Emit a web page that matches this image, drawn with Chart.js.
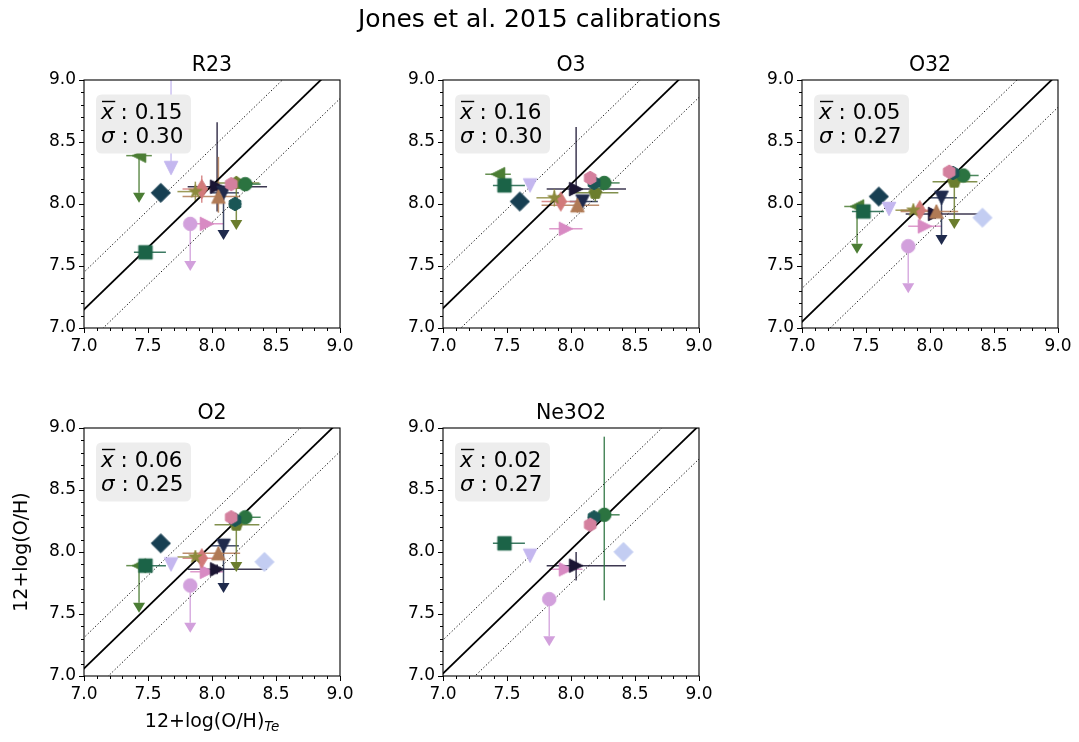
<!DOCTYPE html>
<html>
<head>
<meta charset="utf-8">
<script src="https://cdn.jsdelivr.net/npm/chart.js@4.4.1/dist/chart.umd.min.js"></script>
<style>
  html, body { margin: 0; padding: 0; background: #fff; }
  body { width: 1079px; height: 742px; position: relative; overflow: hidden; }
  canvas { position: absolute; }
</style>
</head>
<body>
<canvas id="figText" width="1079" height="742" style="left:0;top:0"></canvas>
<script>
// ---- calibrations and their scatter statistics ----
const calibNames = ['R23', 'O3', 'O32', 'O2', 'Ne3O2'];
const meanOffsets = [0.15, 0.16, 0.05, 0.06, 0.02];
const sigmaValues = [0.30, 0.30, 0.27, 0.25, 0.27];
const axisTicks = [7.0, 7.5, 8.0, 8.5, 9.0];

// ---- objects: direct-method (Te) metallicity and its uncertainty ----
const teOH      = [7.43, 7.48, 7.60, 7.68, 7.83, 7.96, 8.04, 8.09, 8.19, 8.26, 8.18, 8.15, 7.92, 8.05, 7.87, 8.41];
const teErrLow  = [0.10, 0.09, 0.07, 0.00, 0.00, 0.13, 0.23, 0.10, 0.17, 0.10, 0.05, 0.04, 0.15, 0.28, 0.14, 0.00];
const teErrHigh = [0.10, 0.16, 0.07, 0.00, 0.00, 0.13, 0.39, 0.12, 0.18, 0.12, 0.05, 0.04, 0.15, 0.17, 0.07, 0.00];
const markerShapes = ['<', 's', 'D', 'v', 'o', '>', '>', 'v', 'p', 'o', 'h', 'h', 'd', '^', '*', 'D'];
const markerColors = ['#4b7d34', '#1b6347', '#173f52', '#c4b7ef', '#d2a0dc', '#d88ac3', '#1b1533', '#1f2a4c',
                      '#6b7d2e', '#2b7340', '#1b5656', '#d4809e', '#d27a7a', '#b07a55', '#8c8a3c', '#c3cdf2'];

// ---- strong-line metallicities (null = not measured) ----
const ohR23   = [8.39, 7.61, 8.09, 8.29, 7.84, 7.84, 8.14, 8.09, 8.17, 8.16, 8.00, 8.16, 8.12, 8.06, 8.10, null];
const ohO3    = [8.24, 8.15, 8.02, 8.15, null, 7.80, 8.12, 8.02, 8.09, 8.17, 8.17, 8.21, 8.02, 7.99, 8.05, null];
const ohO32   = [7.98, 7.94, 8.06, 7.96, 7.66, 7.82, 7.92, 8.05, 8.18, 8.23, 8.25, 8.26, 7.95, 7.94, 7.95, 7.89];
const ohO2    = [7.89, 7.89, 8.07, 7.90, 7.73, 7.84, 7.86, 8.05, 8.22, 8.28, 8.26, 8.28, 7.95, 7.99, 7.96, 7.92];
const ohNe3O2 = [null, 8.07, null, 7.97, 7.62, 7.86, 7.89, null, null, 8.30, 8.28, 8.22, null, null, null, 8.00];

const errLowR23    = [0, 0, 0, 0, 0, 0, 0.20, 0, 0, 0.05, 0, 0.04, 0.11, 0.13, 0.08, 0];
const errHighR23   = [0, 0, 0, 0.80, 0, 0, 0.52, 0, 0, 0.05, 0, 0.04, 0.11, 0.32, 0.08, 0];
const errLowO3     = [0, 0, 0, 0, 0, 0, 0, 0, 0.07, 0.04, 0, 0.04, 0.06, 0.06, 0.07, 0];
const errHighO3    = [0, 0, 0, 0, 0, 0, 0.50, 0, 0.07, 0.04, 0, 0.04, 0.06, 0.06, 0.07, 0];
const errLowO32    = [0, 0, 0, 0, 0, 0, 0.04, 0, 0, 0.04, 0, 0.04, 0.05, 0.05, 0.04, 0];
const errHighO32   = [0, 0, 0, 0, 0, 0, 0.04, 0, 0, 0.04, 0, 0.04, 0.05, 0.05, 0.04, 0];
const errLowO2     = [0, 0, 0, 0, 0, 0, 0.04, 0, 0, 0.04, 0, 0.04, 0.05, 0.05, 0.04, 0];
const errHighO2    = [0, 0, 0, 0, 0, 0, 0.04, 0, 0, 0.04, 0, 0.04, 0.05, 0.05, 0.04, 0];
const errLowNe3O2  = [0, 0, 0, 0, 0, 0, 0.12, 0, 0, 0.69, 0, 0.06, 0, 0, 0, 0];
const errHighNe3O2 = [0, 0, 0, 0, 0, 0, 0.11, 0, 0, 0.63, 0, 0.06, 0, 0, 0, 0];

// upper limits (drawn as downward arrows)
const upperR23   = [1, 0, 0, 0, 1, 0, 0, 1, 1, 0, 0, 0, 0, 0, 0, 0];
const upperO3    = [0, 0, 0, 0, 0, 0, 0, 0, 0, 0, 0, 0, 0, 0, 0, 0];
const upperO32   = [1, 0, 0, 0, 1, 0, 0, 1, 1, 0, 0, 0, 0, 0, 0, 0];
const upperO2    = [1, 0, 0, 0, 1, 0, 0, 1, 1, 0, 0, 0, 0, 0, 0, 0];
const upperNe3O2 = [0, 0, 0, 0, 1, 0, 0, 0, 0, 0, 0, 0, 0, 0, 0, 0];
const limitArrowDex = 0.30;

const panelY     = [ohR23, ohO3, ohO32, ohO2, ohNe3O2];
const panelErrLo = [errLowR23, errLowO3, errLowO32, errLowO2, errLowNe3O2];
const panelErrHi = [errHighR23, errHighO3, errHighO32, errHighO2, errHighNe3O2];
const panelUpper = [upperR23, upperO3, upperO32, upperO2, upperNe3O2];

// ---- layout ----
const FONT = '"DejaVu Sans", "Liberation Sans", sans-serif';
const PLOT_W = 256, PLOT_H = 248;
const PAD_L = 60, PAD_T = 40, PAD_R = 20, PAD_B = 40;
const panelLefts = [84, 443, 802, 84, 443];
const panelTops  = [80, 80, 80, 428, 428];
const MS = 13.5; // marker size in px

// marker sprites drawn on small canvases, used as Chart.js point styles
function markerSprite(shape, color) {
  const S = 26;
  const c = document.createElement('canvas');
  c.width = S; c.height = S;
  const g = c.getContext('2d');
  const h = MS / 2, cx = S / 2, cy = S / 2;
  g.beginPath();
  const poly = pts => { pts.forEach((p, k) => k ? g.lineTo(cx + p[0], cy + p[1]) : g.moveTo(cx + p[0], cy + p[1])); g.closePath(); };
  const r2 = h * Math.SQRT2;
  switch (shape) {
    case 'o': g.arc(cx, cy, h, 0, Math.PI * 2); break;
    case 's': poly([[-h, -h], [h, -h], [h, h], [-h, h]]); break;
    case 'D': poly([[0, -r2], [r2, 0], [0, r2], [-r2, 0]]); break;
    case 'd': poly([[0, -r2], [0.6 * r2, 0], [0, r2], [-0.6 * r2, 0]]); break;
    case '^': poly([[0, -h], [h, h], [-h, h]]); break;
    case 'v': poly([[0, h], [h, -h], [-h, -h]]); break;
    case '<': poly([[-h, 0], [h, -h], [h, h]]); break;
    case '>': poly([[h, 0], [-h, -h], [-h, h]]); break;
    case 'p': {
      const pts = [];
      for (let k = 0; k < 5; k++) { const a = -Math.PI / 2 + k * 2 * Math.PI / 5; pts.push([h * Math.cos(a), h * Math.sin(a)]); }
      poly(pts); break;
    }
    case 'h': {
      const pts = [];
      for (let k = 0; k < 6; k++) { const a = -Math.PI / 2 + k * Math.PI / 3; pts.push([h * Math.cos(a), h * Math.sin(a)]); }
      poly(pts); break;
    }
    case '*': {
      const pts = [];
      for (let k = 0; k < 10; k++) { const a = -Math.PI / 2 + k * Math.PI / 5; const r = k % 2 ? h * 0.381966 : h; pts.push([r * Math.cos(a), r * Math.sin(a)]); }
      poly(pts); break;
    }
  }
  g.fillStyle = color; g.strokeStyle = color; g.lineWidth = 1;
  g.fill(); g.stroke();
  return c;
}

function hexAlpha(hex, a) {
  const n = parseInt(hex.slice(1), 16);
  return `rgba(${(n >> 16) & 255},${(n >> 8) & 255},${n & 255},${a})`;
}

// error bars, limit arrows, frame, minor ticks, titles and stat box
function decorPlugin(p) {
  return {
    id: 'decor' + p,
    beforeDatasetsDraw(chart) {
      const { ctx, chartArea: a, scales: { x: sx, y: sy } } = chart;
      const ys = panelY[p], lo = panelErrLo[p], hi = panelErrHi[p], up = panelUpper[p];
      ctx.save();
      ctx.beginPath(); ctx.rect(a.left, a.top, a.right - a.left, a.bottom - a.top); ctx.clip();
      ctx.lineWidth = 1.5;
      ys.forEach((yv, i) => {
        if (yv === null) return;
        const px = sx.getPixelForValue(teOH[i]);
        const py = sy.getPixelForValue(yv);
        ctx.strokeStyle = hexAlpha(markerColors[i], 0.85);
        ctx.fillStyle = markerColors[i];
        if (teErrLow[i] || teErrHigh[i]) {
          ctx.beginPath();
          ctx.moveTo(sx.getPixelForValue(teOH[i] - teErrLow[i]), py);
          ctx.lineTo(sx.getPixelForValue(teOH[i] + teErrHigh[i]), py);
          ctx.stroke();
        }
        if (up[i]) {
          const pe = sy.getPixelForValue(yv - limitArrowDex);
          ctx.beginPath(); ctx.moveTo(px, py); ctx.lineTo(px, pe); ctx.stroke();
          ctx.beginPath();
          ctx.moveTo(px - 6, pe); ctx.lineTo(px + 6, pe); ctx.lineTo(px, pe + 10); ctx.closePath();
          ctx.fill();
        } else if (lo[i] || hi[i]) {
          ctx.beginPath();
          ctx.moveTo(px, sy.getPixelForValue(yv - lo[i]));
          ctx.lineTo(px, sy.getPixelForValue(yv + hi[i]));
          ctx.stroke();
        }
      });
      ctx.restore();
    },
    afterDraw(chart) {
      const { ctx, chartArea: a, scales: { x: sx, y: sy } } = chart;
      ctx.save();
      // frame
      ctx.strokeStyle = '#000'; ctx.lineWidth = 1.1;
      ctx.strokeRect(a.left, a.top, a.right - a.left, a.bottom - a.top);
      // minor ticks every 0.1
      ctx.lineWidth = 1;
      for (let k = 1; k < 20; k++) {
        if (k % 5 === 0) continue;
        const v = 7 + k * 0.1;
        const xp = Math.round(sx.getPixelForValue(v)) + 0.5;
        ctx.beginPath(); ctx.moveTo(xp, a.bottom); ctx.lineTo(xp, a.bottom + 3); ctx.stroke();
        const yp = Math.round(sy.getPixelForValue(v)) + 0.5;
        ctx.beginPath(); ctx.moveTo(a.left, yp); ctx.lineTo(a.left - 3, yp); ctx.stroke();
      }
      // panel title
      ctx.fillStyle = '#000';
      ctx.font = '20.5px ' + FONT;
      ctx.textAlign = 'center'; ctx.textBaseline = 'alphabetic';
      ctx.fillText(calibNames[p], (a.left + a.right) / 2, a.top - 9);
      // stat box
      const bx = a.left + 12, by = a.top + 14.5, bw = 95, bh = 59, r = 6;
      ctx.fillStyle = '#ededed';
      ctx.beginPath();
      ctx.moveTo(bx + r, by); ctx.lineTo(bx + bw - r, by); ctx.quadraticCurveTo(bx + bw, by, bx + bw, by + r);
      ctx.lineTo(bx + bw, by + bh - r); ctx.quadraticCurveTo(bx + bw, by + bh, bx + bw - r, by + bh);
      ctx.lineTo(bx + r, by + bh); ctx.quadraticCurveTo(bx, by + bh, bx, by + bh - r);
      ctx.lineTo(bx, by + r); ctx.quadraticCurveTo(bx, by, bx + r, by);
      ctx.fill();
      ctx.fillStyle = '#000';
      ctx.textAlign = 'left';
      const tx = a.left + 17, b1 = a.top + 39, b2 = a.top + 63;
      ctx.font = 'italic 21.5px ' + FONT;
      ctx.fillText('x', tx, b1);
      const wx = ctx.measureText('x').width;
      ctx.lineWidth = 1.4;
      ctx.beginPath(); ctx.moveTo(tx + 1, b1 - 17.5); ctx.lineTo(tx + wx + 1.5, b1 - 17.5); ctx.stroke();
      ctx.fillText('σ', tx, b2);
      const ws = ctx.measureText('σ').width;
      ctx.font = '21.5px ' + FONT;
      ctx.fillText(' : ' + meanOffsets[p].toFixed(2), tx + wx, b1);
      ctx.fillText(' : ' + sigmaValues[p].toFixed(2), tx + ws, b2);
      ctx.restore();
    }
  };
}

function axisOptions(isY) {
  return {
    type: 'linear', min: 7, max: 9,
    afterBuildTicks: s => { s.ticks = axisTicks.map(v => ({ value: v })); },
    afterFit: s => { if (isY) s.width = PAD_L; else s.height = PAD_B; },
    ticks: {
      callback: v => Number(v).toFixed(1),
      font: { family: FONT, size: 17 },
      color: '#000', padding: 3, maxRotation: 0, autoSkip: false
    },
    grid: { drawOnChartArea: false, drawTicks: true, tickLength: 5, color: '#000', tickWidth: 1 },
    border: { display: false }
  };
}

function buildPanel(p) {
  const cv = document.createElement('canvas');
  cv.width = PAD_L + PLOT_W + PAD_R;
  cv.height = PAD_T + PLOT_H + PAD_B;
  cv.style.left = (panelLefts[p] - PAD_L) + 'px';
  cv.style.top = (panelTops[p] - PAD_T) + 'px';
  document.body.appendChild(cv);

  const m = meanOffsets[p], s = sigmaValues[p];
  const refLine = (off, dash, w) => ({
    data: [{ x: 6, y: 6 + off }, { x: 10, y: 10 + off }],
    showLine: true, borderColor: '#000', borderWidth: w, borderDash: dash,
    pointRadius: 0, order: 1000
  });
  const datasets = [refLine(m, [], 1.8), refLine(m + s, [1.2, 2.2], 1), refLine(m - s, [1.2, 2.2], 1)];
  panelY[p].forEach((yv, i) => {
    if (yv === null) return;
    datasets.push({
      data: [{ x: teOH[i], y: yv }],
      pointStyle: markerSprite(markerShapes[i], markerColors[i]),
      pointRadius: 7, pointHoverRadius: 7,
      order: 100 - i
    });
  });

  new Chart(cv, {
    type: 'scatter',
    data: { datasets },
    options: {
      responsive: false, maintainAspectRatio: false, animation: false,
      devicePixelRatio: 1,
      layout: { padding: { left: 0, top: PAD_T, right: PAD_R, bottom: 0 } },
      plugins: { legend: { display: false }, tooltip: { enabled: false }, title: { display: false } },
      scales: { x: axisOptions(false), y: axisOptions(true) },
      events: []
    },
    plugins: [decorPlugin(p)]
  });
}

for (let p = 0; p < calibNames.length; p++) buildPanel(p);

// figure-level text: suptitle and axis labels
(function () {
  const c = document.getElementById('figText');
  const g = c.getContext('2d');
  g.fillStyle = '#000';
  g.textBaseline = 'alphabetic';
  g.font = '25px ' + FONT;
  g.textAlign = 'center';
  g.fillText('Jones et al. 2015 calibrations', 539.5, 27);

  // y label
  g.save();
  g.translate(27, 552);
  g.rotate(-Math.PI / 2);
  g.font = '19px ' + FONT;
  g.fillText('12+log(O/H)', 0, 0);
  g.restore();

  // x label with italic subscript
  g.font = '19px ' + FONT;
  const main = '12+log(O/H)';
  const wm = g.measureText(main).width;
  g.font = 'italic 13.5px ' + FONT;
  const ws = g.measureText('Te').width;
  const x0 = 212 - (wm + ws) / 2;
  g.textAlign = 'left';
  g.font = '19px ' + FONT;
  g.fillText(main, x0, 727);
  g.font = 'italic 13.5px ' + FONT;
  g.fillText('Te', x0 + wm, 731);
})();
</script>
</body>
</html>
